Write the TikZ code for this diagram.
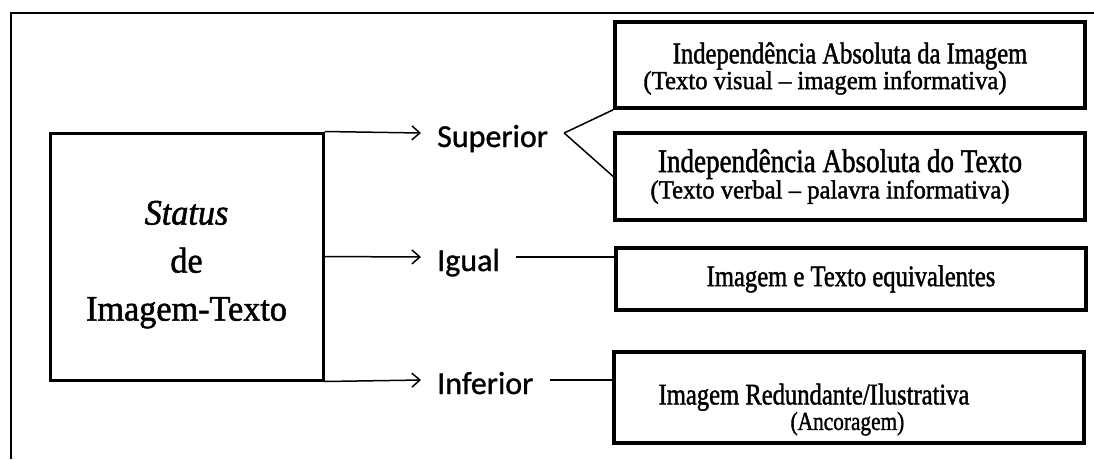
\documentclass[tikz,border=0pt]{standalone}
\usepackage{fontspec}
\usepackage{tikz}
\usetikzlibrary{arrows.meta}
\usetikzlibrary{positioning}
\newfontfamily\capfont[FakeStretch=0.82, FakeBold=1.4]{Liberation Serif}
\newfontfamily\subfont[FakeStretch=0.95, FakeBold=1.4]{Liberation Serif}
\newfontfamily\labfont[FakeBold=1]{Carlito}
\tikzset{mainbox/.style = {draw, line width = 3pt, minimum width = 273pt, minimum height = 247pt,
                           inner sep = 0, align = center}}
\tikzset{catbox/.style = {draw, line width = 3.5pt, minimum width = 470pt, inner sep = 0, align = center}}
\tikzset{lab/.style = {font = \labfont\fontsize{32}{38}\selectfont, inner xsep = 16pt, inner ysep = 0,
                       text height = 28pt, text depth = 0pt, anchor = west}}
\tikzset{link/.style = {line width = 1.5pt}}
\tikzset{arr/.style = {link, -{Straight Barb[length = 8pt, width = 14pt, line width = 1.5pt]}}}

\begin{document}
\begin{tikzpicture}[x = 1pt, y = -1pt]
      \useasboundingbox (0, 0) rectangle (1094, 459);
      \draw [line width = 2pt] (11, 459) -- (11, 12.5) -- (1094, 12.5);
      % status box
      \node [mainbox, font = \subfont\fontsize{36}{40}\selectfont] (status) at (186.5, 256.5)
            {\rule{0pt}{40pt}{\itshape Status}\\[8pt] de\\[8pt] Imagem-Texto};
      \node [lab] (sup) at (421, 133) {Superior};
      \node [lab] (igu) at (421, 257) {Igual};
      \node [lab] (inf) at (421, 380) {Inferior};
      \draw [arr] (status.north east) -- (sup.west);
      \draw [arr] (status.east) -- (igu.west);
      \draw [arr] (status.south east) -- (inf.west);
      % categories
      \node [catbox, minimum height = 86pt] (absimg) at (850, 65)
            {\capfont\fontsize{30}{34}\selectfont\rule{0pt}{28pt}Independência Absoluta da Imagem\\
             \subfont\fontsize{26}{34}\selectfont (Texto visual – imagem informativa)\hspace*{50pt}};
      \node [catbox, minimum height = 87pt] (abstxt) at (850, 176.5)
            {\capfont\fontsize{33}{34}\selectfont Independência Absoluta do Texto\hspace*{20pt}\\
             \subfont\fontsize{26}{34}\selectfont (Texto verbal – palavra informativa)\hspace*{40pt}};
      \node [catbox, minimum height = 62pt] (equiv) at (851, 279)
            {\capfont\fontsize{30}{36}\selectfont Imagem e Texto equivalentes};
      \node [catbox, minimum height = 91pt, align = left] (redund) at (849, 397.5)
            {\capfont\fontsize{30}{31}\selectfont\rule{0pt}{45pt}Imagem Redundante/Ilustrativa\hspace*{70pt}\\
             \capfont\fontsize{26}{31}\selectfont\hspace*{132pt}(Ancoragem)};
      \draw [link] (sup.east) -- (absimg.south west);
      \draw [link] (sup.east) -- (abstxt.west);
      \draw [link] (igu.east) -- (igu.east -| equiv.west);
      \draw [link] (inf.east) -- (inf.east -| redund.west);
\end{tikzpicture}
\end{document}
